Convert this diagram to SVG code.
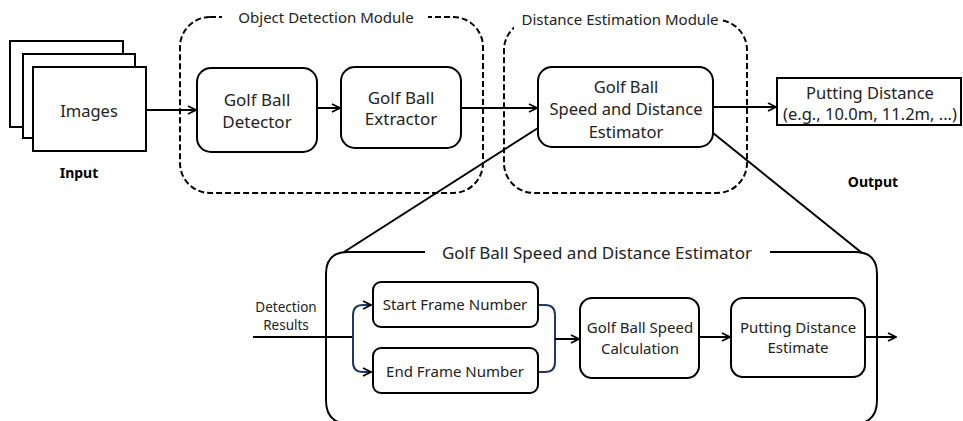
<svg xmlns="http://www.w3.org/2000/svg" width="963" height="421" viewBox="0 0 963 421">
<defs>
<marker id="arr" viewBox="0 0 10 10" refX="9" refY="5" markerWidth="10" markerHeight="10" markerUnits="userSpaceOnUse" orient="auto">
<path d="M1,1 L9,5 L1,9" fill="none" stroke="#000" stroke-width="1.8"/>
</marker>
<marker id="arrb" viewBox="0 0 10 10" refX="9" refY="5" markerWidth="10" markerHeight="10" markerUnits="userSpaceOnUse" orient="auto">
<path d="M1,1 L9,5 L1,9" fill="none" stroke="#000" stroke-width="1.8"/>
</marker>
</defs>
<style>
text{font-family:"Noto Sans","Open Sans","DejaVu Sans",sans-serif;fill:#222;text-anchor:middle}
.node{fill:#fff;stroke:#000;stroke-width:2}
.dash{fill:none;stroke:#000;stroke-width:2;stroke-dasharray:6 3}
.ln{fill:none;stroke:#000;stroke-width:2}
.bl{fill:none;stroke:#1f3864;stroke-width:2}
.t17{font-size:17px}
.t16{font-size:16.5px}
.t15{font-size:15px}
.t14{font-size:15px}
.t12{font-size:13.5px}
.bold{font-weight:bold;font-size:14px;fill:#000}
</style>
<rect width="963" height="421" fill="#fff"/>

<g id="object-detection-module">
<rect class="dash" x="180" y="17" width="303" height="176" rx="30"/>
<rect x="222" y="6" width="206" height="22" fill="#fff"/>
<text class="t14" x="326" y="23">Object Detection Module</text>
</g>
<g id="distance-estimation-module">
<rect class="dash" x="504" y="20" width="243" height="173" rx="30"/>
<rect x="514" y="8" width="208" height="24" fill="#fff"/>
<text class="t14" x="620" y="25">Distance Estimation Module</text>
</g>

<g id="connectors">
<line class="ln" x1="146" y1="110" x2="196" y2="110" marker-end="url(#arr)"/>
<line class="ln" x1="317" y1="108" x2="340" y2="108" marker-end="url(#arr)"/>
<line class="ln" x1="461" y1="108" x2="537" y2="108" marker-end="url(#arr)"/>
<line class="ln" x1="713" y1="107" x2="776" y2="107" marker-end="url(#arr)"/>
<line class="ln" x1="538" y1="128" x2="344" y2="252"/>
<line class="ln" x1="713" y1="133" x2="862" y2="253"/>
<line class="ln" x1="253" y1="337" x2="353" y2="337"/>
<path class="bl" d="M353,337 V315 Q353,305 363,305 H371" marker-end="url(#arrb)"/>
<path class="bl" d="M353,337 V362 Q353,372 363,372 H371" marker-end="url(#arrb)"/>
<path class="bl" d="M538,305 H545 Q555,305 555,315 V362 Q555,372 545,372 H538"/>
<line class="ln" x1="555" y1="339" x2="579" y2="339" marker-end="url(#arr)"/>
<line class="ln" x1="699" y1="337" x2="730" y2="337" marker-end="url(#arr)"/>
<line class="ln" x1="865" y1="337" x2="896" y2="337" marker-end="url(#arr)"/>
</g>

<g id="input-images">
<rect class="node" x="10" y="41" width="113" height="86"/>
<rect class="node" x="23" y="54" width="112" height="84"/>
<rect class="node" x="33" y="67" width="113" height="84"/>
<text class="t16" x="89" y="117">Images</text>
<text class="bold" x="79" y="178">Input</text>
</g>

<g id="golf-ball-detector">
<rect class="node" x="197" y="68" width="120" height="84" rx="14"/>
<text class="t17" x="257" y="106">Golf Ball</text>
<text class="t17" x="257" y="128">Detector</text>
</g>

<g id="golf-ball-extractor">
<rect class="node" x="341" y="67" width="120" height="81" rx="14"/>
<text class="t17" x="401" y="104">Golf Ball</text>
<text class="t17" x="401" y="125">Extractor</text>
</g>

<g id="speed-distance-estimator">
<rect class="node" x="538" y="67" width="175" height="80" rx="14"/>
<text class="t16" x="626" y="93">Golf Ball</text>
<text class="t16" x="626" y="115">Speed and Distance</text>
<text class="t16" x="626" y="138">Estimator</text>
</g>

<g id="putting-distance-output">
<rect class="node" x="777" y="78" width="184" height="47"/>
<text class="t16" x="870" y="99">Putting Distance</text>
<text class="t16" x="870" y="120">(e.g., 10.0m, 11.2m, ...)</text>
<text class="bold" x="873" y="187">Output</text>
</g>

<g id="estimator-detail">
<path class="ln" d="M425,252 H348 Q326,252 326,274 V400 Q326,424 350,424 H853 Q877,424 877,400 V274 Q877,252 855,252 H770"/>
<text class="t17" x="597" y="259">Golf Ball Speed and Distance Estimator</text>
<text class="t12" x="286" y="312">Detection</text>
<text class="t12" x="286" y="330">Results</text>
</g>

<g id="start-frame-number">
<rect class="node" x="373" y="282" width="165" height="45" rx="8"/>
<text class="t14" x="455" y="310">Start Frame Number</text>
</g>

<g id="end-frame-number">
<rect class="node" x="373" y="348" width="165" height="45" rx="8"/>
<text class="t14" x="455" y="377">End Frame Number</text>
</g>

<g id="speed-calculation">
<rect class="node" x="580" y="298" width="119" height="80" rx="12"/>
<text class="t15" x="640" y="333">Golf Ball Speed</text>
<text class="t15" x="640" y="354">Calculation</text>
</g>

<g id="putting-distance-estimate">
<rect class="node" x="731" y="298" width="134" height="79" rx="12"/>
<text class="t15" x="798" y="333">Putting Distance</text>
<text class="t15" x="798" y="353">Estimate</text>
</g>
</svg>
